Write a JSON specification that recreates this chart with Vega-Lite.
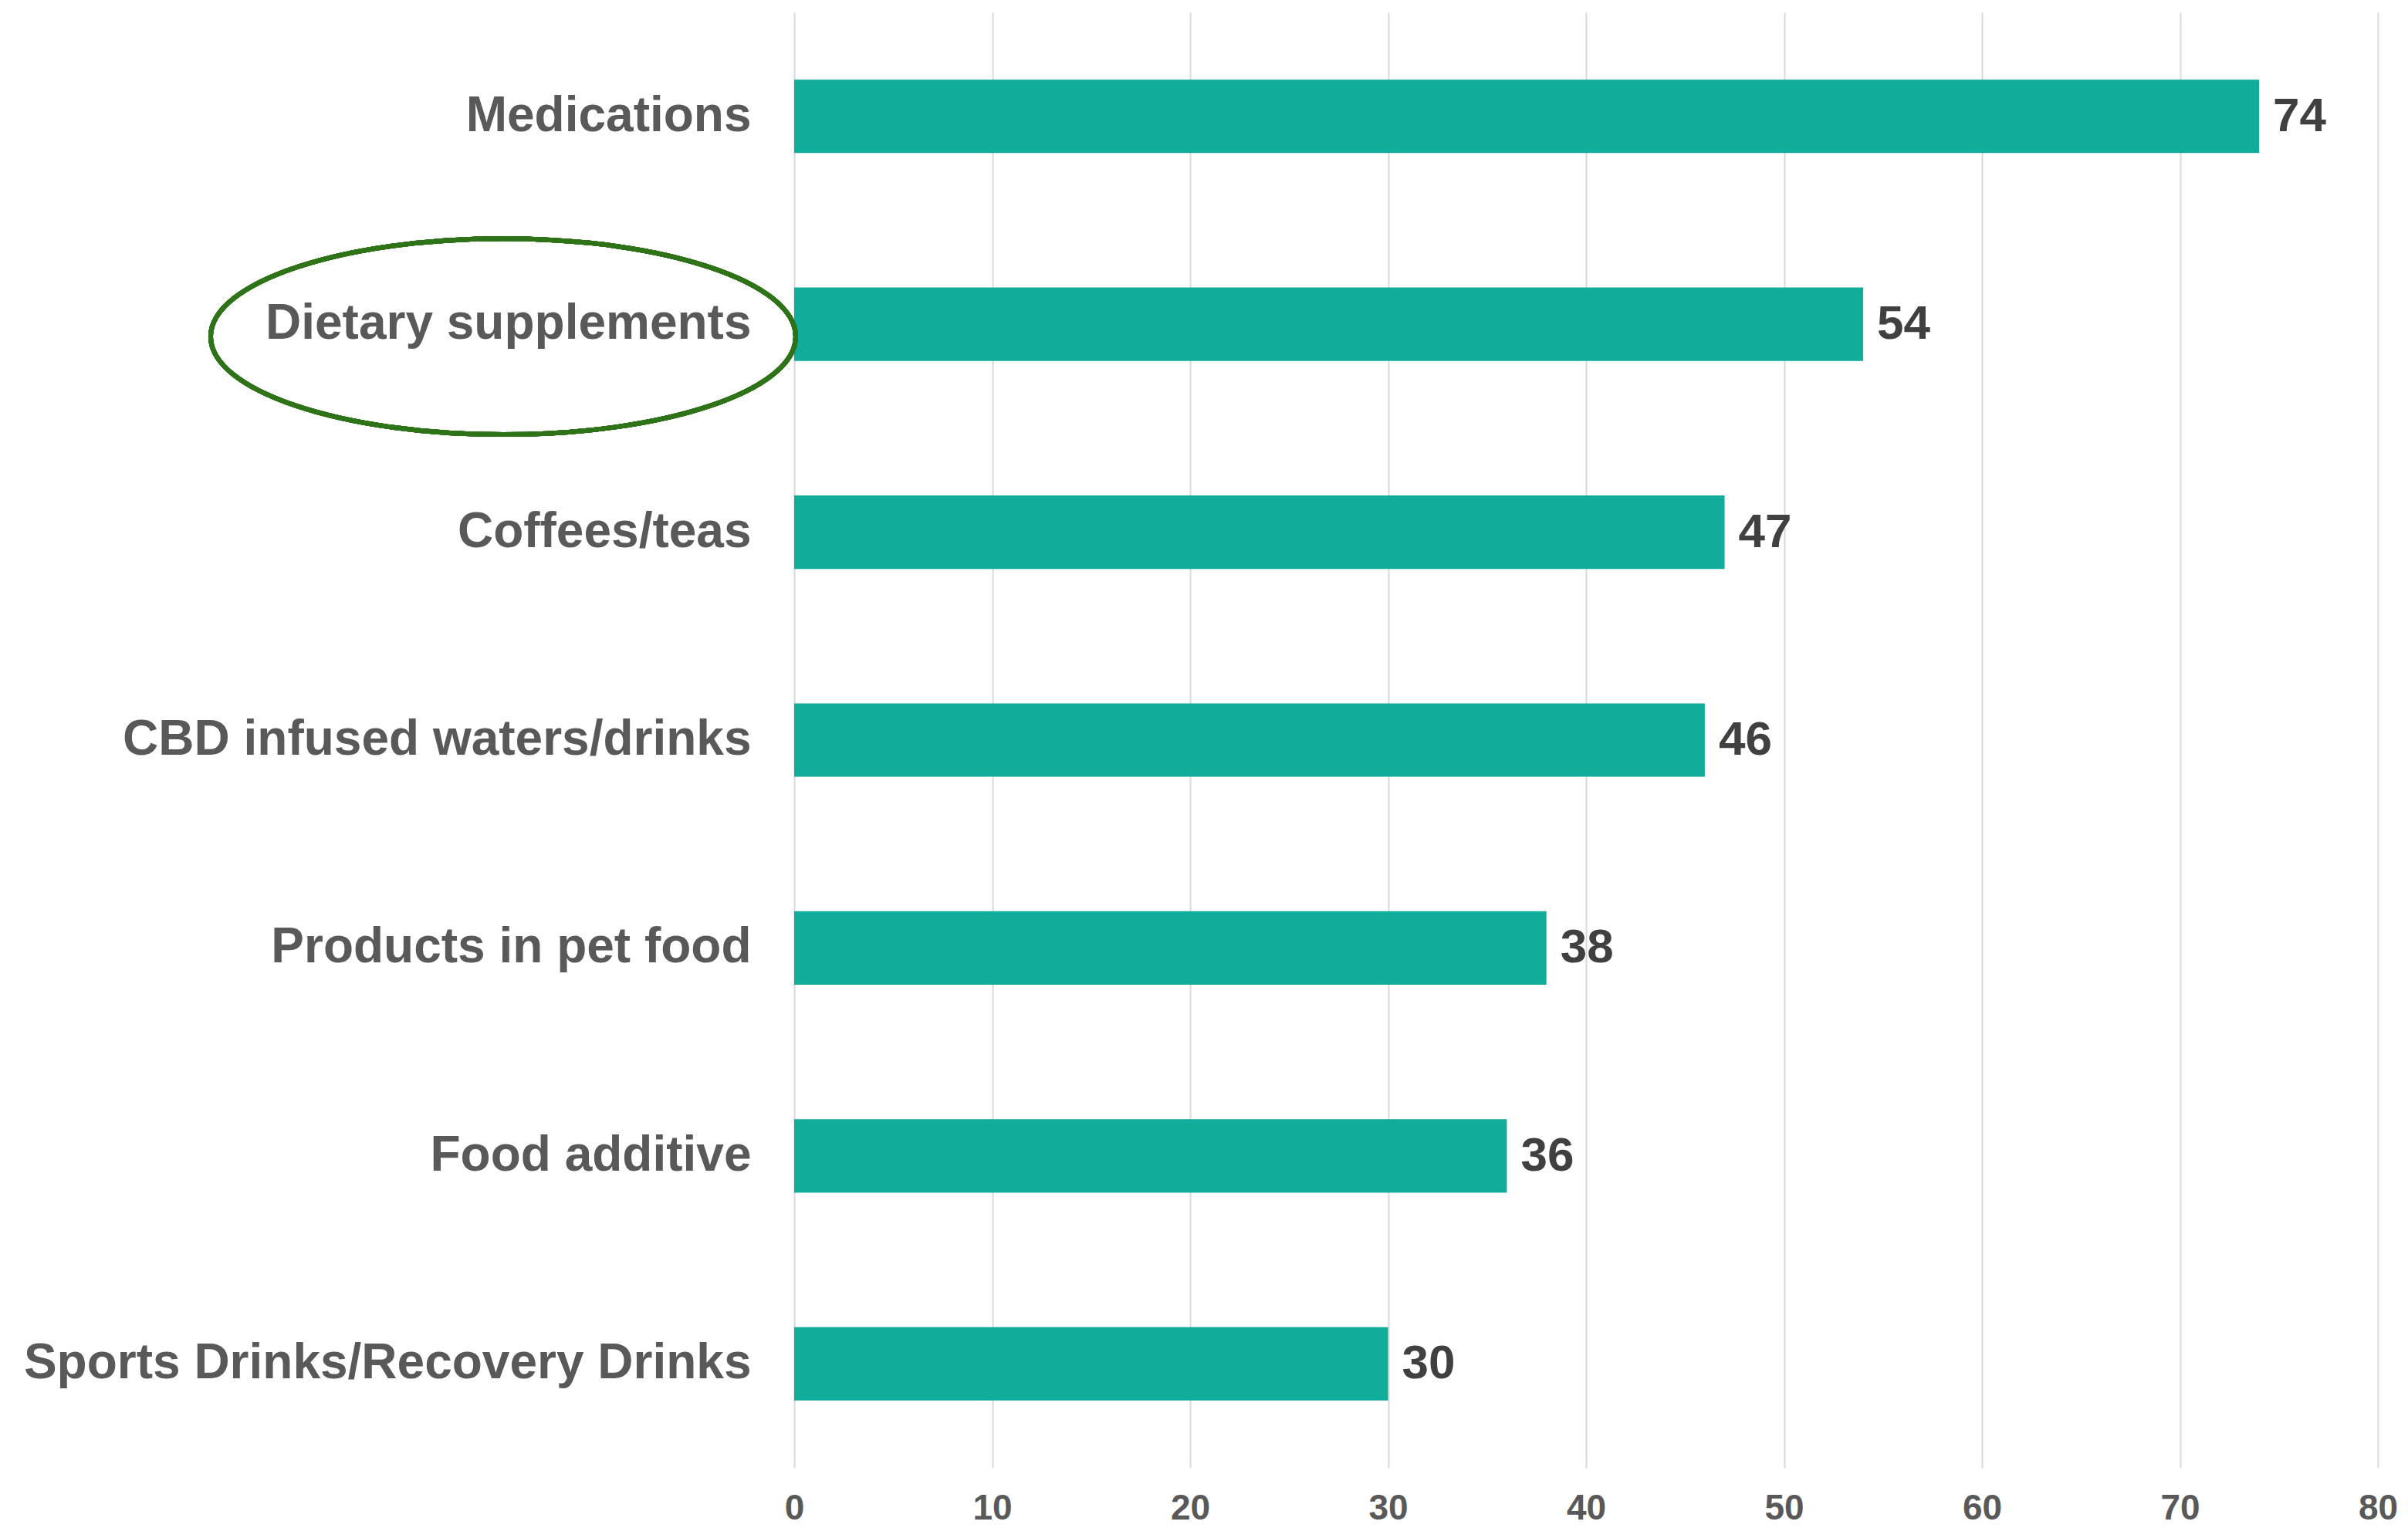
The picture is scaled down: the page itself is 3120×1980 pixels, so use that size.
{
  "$schema": "https://vega.github.io/schema/vega-lite/v6.json",
  "width": 2052,
  "height": 1886,
  "autosize": {"type": "none"},
  "padding": {"left": 1029, "top": 16, "right": 39, "bottom": 78},
  "background": "white",
  "config": {
    "view": {"stroke": null},
    "font": "Liberation Sans"
  },
  "data": {
    "values": [
      {"category": "Medications", "value": 74},
      {"category": "Dietary supplements", "value": 54},
      {"category": "Coffees/teas", "value": 47},
      {"category": "CBD infused waters/drinks", "value": 46},
      {"category": "Products in pet food", "value": 38},
      {"category": "Food additive", "value": 36},
      {"category": "Sports Drinks/Recovery Drinks", "value": 30}
    ]
  },
  "encoding": {
    "y": {
      "field": "category",
      "type": "nominal",
      "sort": null,
      "scale": {"paddingInner": 0.647, "paddingOuter": 0.3235},
      "axis": {
        "title": null,
        "domain": false,
        "ticks": false,
        "labelFontSize": 64,
        "labelFontWeight": "bold",
        "labelColor": "#595959",
        "labelPadding": 56,
        "labelLimit": 0,
        "labelFont": "Liberation Sans"
      }
    }
  },
  "layer": [
    {
      "mark": {"type": "bar", "color": "#12AC9B"},
      "encoding": {
        "x": {
          "field": "value",
          "type": "quantitative",
          "scale": {"domain": [0, 80], "nice": false},
          "axis": {
            "title": null,
            "values": [0, 10, 20, 30, 40, 50, 60, 70, 80],
            "domain": false,
            "ticks": false,
            "grid": true,
            "gridColor": "#d9d9d9",
            "gridWidth": 2,
            "labelFontSize": 46,
            "labelFontWeight": "bold",
            "labelColor": "#595959",
            "labelPadding": 30,
            "labelFlush": false,
            "labelFont": "Liberation Sans"
          }
        }
      }
    },
    {
      "mark": {
        "type": "text",
        "align": "left",
        "baseline": "middle",
        "dx": 18,
        "fontSize": 62,
        "fontWeight": "bold",
        "color": "#404040",
        "font": "Liberation Sans"
      },
      "encoding": {
        "x": {"field": "value", "type": "quantitative"},
        "text": {"field": "value", "type": "quantitative"}
      }
    },
    {
      "mark": {
        "type": "point",
        "shape": "M -1 0 A 1 0.335 0 1 0 1 0 A 1 0.335 0 1 0 -1 0 Z",
        "size": 574564,
        "filled": false,
        "stroke": "#2E7318",
        "strokeWidth": 6,
        "opacity": 1,
        "yOffset": 16
      },
      "encoding": {
        "x": {"datum": -14.7, "type": "quantitative"},
        "y": {"datum": "Dietary supplements", "type": "nominal"}
      }
    }
  ]
}
